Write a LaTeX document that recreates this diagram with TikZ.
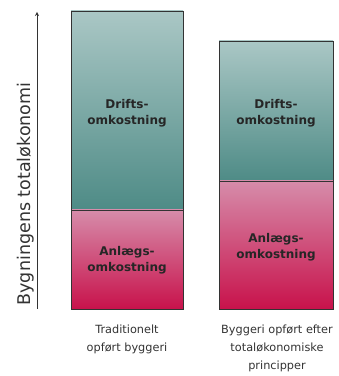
\documentclass[tikz,border=0pt]{standalone}
\usepackage{fontspec}
\setmainfont{DejaVu Sans}
\usepackage{xcolor}
\definecolor{driftlight}{HTML}{AAC7C5}
\definecolor{driftdark}{HTML}{4E8B86}
\definecolor{anlaeglight}{HTML}{D68CAA}
\definecolor{anlaegdark}{HTML}{C8124B}
\definecolor{axisgray}{HTML}{333333}
\begin{document}
\begin{tikzpicture}[x=1pt,y=1pt,
  barlabel/.style={font=\bfseries\fontsize{12}{16}\selectfont,align=center,text=black!85},
  caption/.style={font=\fontsize{11.3}{18}\selectfont,align=center,text=black!80}]
\useasboundingbox (0,0) rectangle (339,376);
\shade[top color=driftlight,bottom color=driftdark] (71,166) rectangle (183,365);
\shade[top color=anlaeglight,bottom color=anlaegdark] (71,67) rectangle (183,166);
\draw[black!80,line width=0.8pt] (71,67) rectangle (183,365);
\draw[black!80,line width=0.8pt] (71,166) -- (183,166);
\shade[top color=driftlight,bottom color=driftdark] (219,195) rectangle (333,335);
\shade[top color=anlaeglight,bottom color=anlaegdark] (219,67) rectangle (333,195);
\draw[black!80,line width=0.8pt] (219,67) rectangle (333,335);
\draw[black!80,line width=0.8pt] (219,195) -- (333,195);
\node[barlabel] (drift1) at (127,263) {Drifts-\\omkostning};
\node[barlabel] (anlaeg1) at (127,116) {Anlægs-\\omkostning};
\node[barlabel] (drift2) at (276,263) {Drifts-\\omkostning};
\node[barlabel] (anlaeg2) at (276,129) {Anlægs-\\omkostning};
\coordinate (axisfoot) at (37,67);
\coordinate (axistop) at (37,364);
\draw[axisgray,line width=0.8pt,-stealth] (axisfoot) -- (axistop);
\node[rotate=90,font=\fontsize{17.5}{20}\selectfont,text=axisgray] (axislabel) at (25.5,182) {Bygningens totaløkonomi};
\node[caption] (cap1) at (127,37) {Traditionelt\\opført byggeri};
\node[caption] (cap2) at (277,28) {Byggeri opført efter\\totaløkonomiske\\principper};
\end{tikzpicture}
\end{document}
